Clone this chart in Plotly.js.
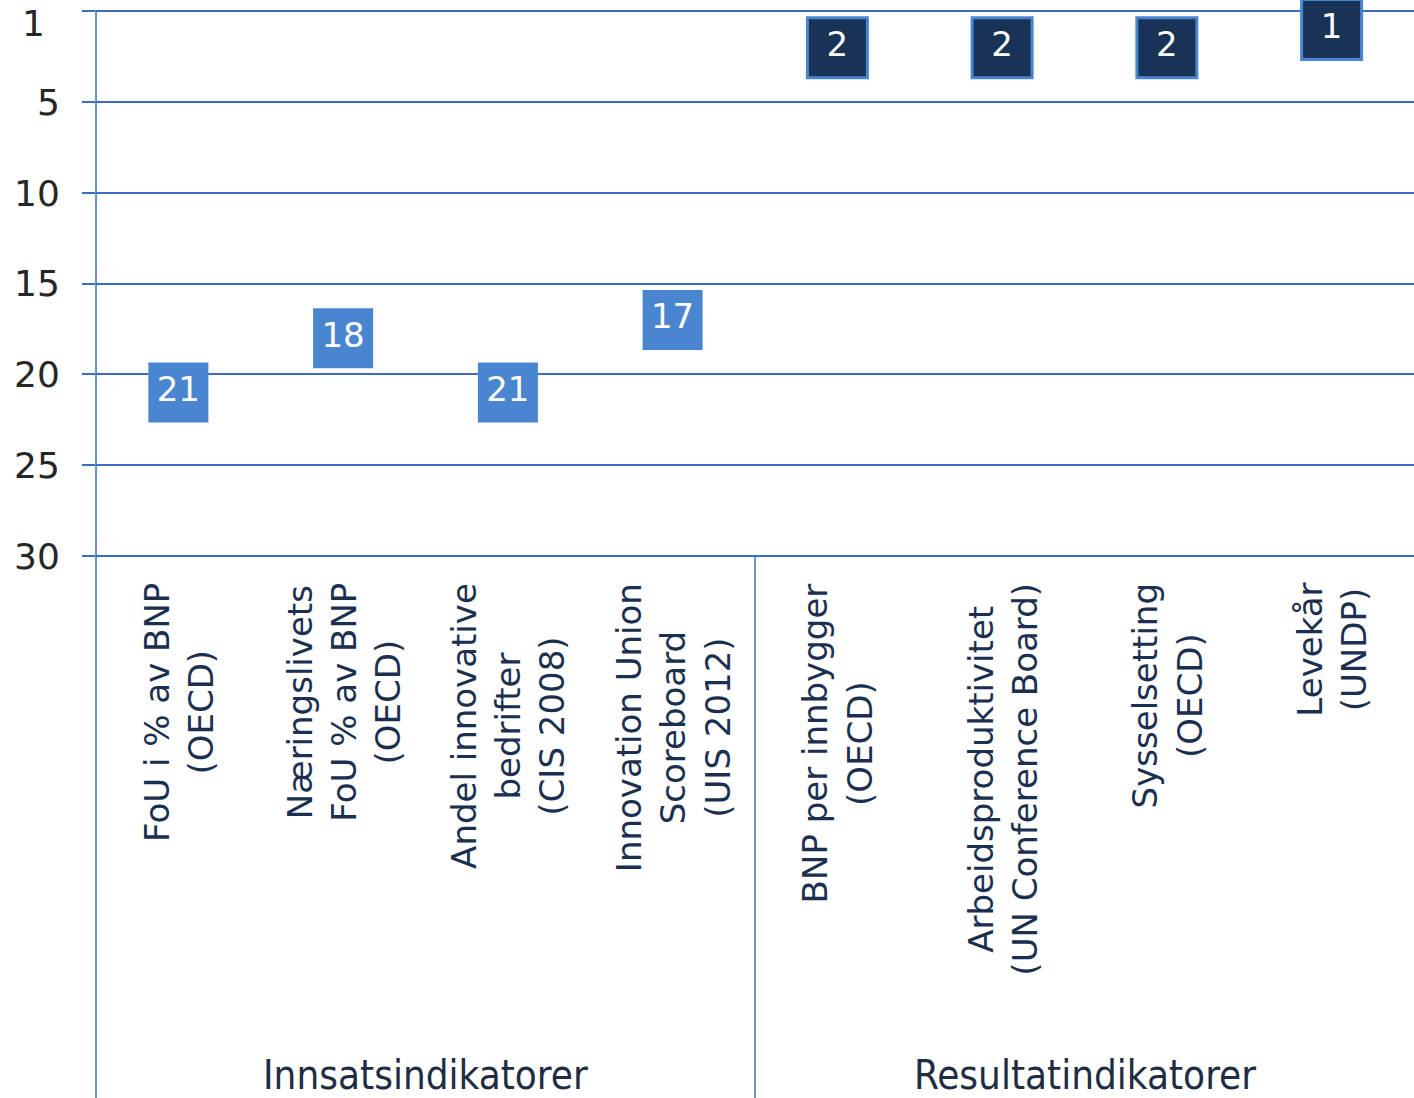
<!DOCTYPE html>
<html>
<head>
<meta charset="utf-8">
<script src="https://cdn.plot.ly/plotly-3.0.1.min.js"></script>
<style>html,body{margin:0;padding:0;background:#fff;}#chart{width:1414px;height:1098px;}</style>
</head>
<body>
<div id="chart"></div>
<script>
// ---- data ----
const groupNames = ["Innsatsindikatorer", "Resultatindikatorer"];
const inputCategories = [
  "FoU i % av BNP\n(OECD)",
  "Næringslivets\nFoU % av BNP\n(OECD)",
  "Andel innovative\nbedrifter\n(CIS 2008)",
  "Innovation Union\nScoreboard\n(UIS 2012)"
];
const resultCategories = [
  "BNP per innbygger\n(OECD)",
  "Arbeidsproduktivitet\n(UN Conference Board)",
  "Sysselsetting\n(OECD)",
  "Levekår\n(UNDP)"
];
const inputRanks = [21, 18, 21, 17];
const resultRanks = [2, 2, 2, 1];
const yTickVals = [0, 5, 10, 15, 20, 25, 30];
const yTickText = ["1", "5", "10", "15", "20", "25", "30"];

// ---- styling ----
const gridBlue = "#3a6cbf";
const lightBlue = "#4a86cf";
const navy = "#183356";
const labelColor = "#1b3050";
const tickColor = "#262626";
const fontMain = "DejaVu Sans, Verdana, sans-serif";
const fontCond = "DejaVu Sans Condensed, Liberation Sans Narrow, DejaVu Sans, sans-serif";

const toHtml = s => s.replace(/\n/g, "<br>");
const allCategories = inputCategories.concat(resultCategories).map(toHtml);
const nIn = inputCategories.length;
const nAll = allCategories.length;

const traces = [
  {
    x: inputCategories.map(toHtml),
    y: inputRanks,
    text: inputRanks.map(String),
    name: groupNames[0],
    type: "scatter",
    mode: "markers+text",
    cliponaxis: false,
    marker: {symbol: "square", size: 60, color: lightBlue, line: {width: 0}},
    textposition: "middle center",
    textfont: {family: fontMain, size: 34, color: "#ffffff"},
    hoverinfo: "skip"
  },
  {
    x: resultCategories.map(toHtml),
    y: resultRanks,
    text: resultRanks.map(String),
    name: groupNames[1],
    type: "scatter",
    mode: "markers+text",
    cliponaxis: false,
    marker: {symbol: "square", size: 60, color: navy, line: {width: 3, color: lightBlue}},
    textposition: "middle center",
    textfont: {family: fontMain, size: 34, color: "#ffffff"},
    hoverinfo: "skip"
  }
];

const annotations = [];
allCategories.forEach(c => {
  annotations.push({
    x: c, xref: "x", y: 0, yref: "paper",
    yanchor: "top", xanchor: "center", yshift: -24,
    text: c, showarrow: false, textangle: -90, align: "center",
    font: {family: fontMain, size: 34, color: labelColor}
  });
});
// group labels centred under each group section
const groupSizes = [inputCategories.length, resultCategories.length];
let start = 0;
groupNames.forEach((g, i) => {
  const center = (start + groupSizes[i] / 2) / nAll;
  annotations.push({
    x: center, xref: "paper", y: 0, yref: "paper",
    yanchor: "middle", xanchor: "center", yshift: -518,
    text: g, showarrow: false,
    font: {family: fontCond, size: 40, color: "#1f2d44"}
  });
  start += groupSizes[i];
});
// the top tick label sits just below the top gridline (as in the original)
annotations.push({
  x: 0, xref: "paper", y: 1, yref: "paper",
  xanchor: "center", yanchor: "middle", xshift: -63, yshift: -13,
  text: yTickText[0], showarrow: false,
  font: {family: fontMain, size: 36, color: tickColor}
});
const axisTickText = yTickText.map((t, i) => i === 0 ? "" : t);

const shapes = [
  // left axis line running down through the label area
  {type: "line", xref: "paper", yref: "paper", x0: 0, x1: 0, y0: 1, y1: -1.0,
   line: {color: gridBlue, width: 1.5}},
  // group separator
  {type: "line", xref: "x domain", yref: "paper", x0: nIn / nAll, x1: nIn / nAll, y0: 0, y1: -1.0,
   line: {color: gridBlue, width: 1.5}}
];

const layout = {
  width: 1414, height: 1098,
  margin: {l: 96, r: 0, t: 10, b: 541},
  paper_bgcolor: "#ffffff", plot_bgcolor: "#ffffff",
  showlegend: false,
  xaxis: {
    type: "category",
    categoryorder: "array",
    categoryarray: allCategories,
    range: [-0.5, nAll - 0.5],
    showticklabels: false,
    showgrid: false, zeroline: false, showline: false, ticks: ""
  },
  yaxis: {
    range: [30.06, -0.08],
    tickmode: "array",
    tickvals: yTickVals,
    ticktext: axisTickText,
    showgrid: true, gridcolor: gridBlue, gridwidth: 2,
    zeroline: false, showline: false,
    ticks: "outside", ticklen: 13, tickcolor: gridBlue, tickwidth: 2,
    ticklabelstandoff: 15,
    tickfont: {family: fontMain, size: 36, color: tickColor}
  },
  annotations: annotations,
  shapes: shapes
};

Plotly.newPlot("chart", traces, layout, {displayModeBar: false, staticPlot: true});
</script>
</body>
</html>
